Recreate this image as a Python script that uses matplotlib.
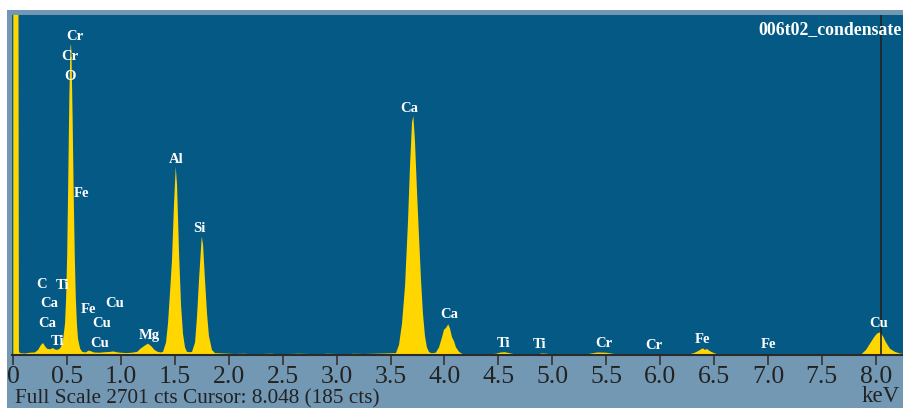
import matplotlib
matplotlib.use("Agg")
import matplotlib.pyplot as plt
from matplotlib.patches import Rectangle

# EDS spectrum (keV, counts)
energy = [0.0, 0.045, 0.052, 0.062, 0.11, 0.155, 0.20, 0.23, 0.257, 0.276, 0.294, 0.313,
          0.34, 0.368, 0.396, 0.424, 0.44, 0.46, 0.48, 0.49, 0.50, 0.51, 0.52, 0.53,
          0.535, 0.54, 0.55, 0.56, 0.57, 0.58, 0.59, 0.60, 0.62, 0.64, 0.67, 0.70,
          0.72, 0.75, 0.80, 0.85, 0.90, 0.93, 0.97, 1.00, 1.05, 1.10, 1.15, 1.18,
          1.22, 1.25, 1.28, 1.31, 1.34, 1.37,
          1.389, 1.417, 1.435, 1.454, 1.472, 1.491, 1.507, 1.519, 1.538, 1.556, 1.574,
          1.593, 1.611, 1.64,
          1.658, 1.686, 1.704, 1.723, 1.748, 1.76, 1.778, 1.797, 1.815, 1.843, 1.871,
          1.95, 2.05, 2.15, 2.25, 2.30, 2.40, 2.50, 2.55, 2.65, 2.75, 2.85, 2.90,
          3.00, 3.10, 3.15, 3.25, 3.35, 3.45,
          3.55, 3.578, 3.606, 3.634, 3.661, 3.68, 3.699, 3.711, 3.726, 3.745, 3.763,
          3.782, 3.80, 3.819, 3.837, 3.856, 3.875, 3.90,
          3.921, 3.949, 3.977, 3.995, 4.014, 4.035, 4.051, 4.07, 4.088, 4.107, 4.135,
          4.163, 4.20, 4.25, 4.35, 4.40, 4.45,
          4.48, 4.52, 4.56, 4.60, 4.64, 4.70, 4.75, 4.85, 4.90, 4.95, 5.00, 5.10,
          5.20, 5.30, 5.35, 5.42, 5.50, 5.56, 5.62, 5.70, 5.75, 5.80, 5.90, 5.95,
          6.00, 6.10, 6.20,
          6.268, 6.314, 6.351, 6.379, 6.398, 6.416, 6.435, 6.463, 6.50, 6.537, 6.60,
          6.80, 6.82, 6.84, 6.98, 7.00, 7.10, 7.13, 7.50, 7.85,
          7.873, 7.91, 7.947, 7.984, 8.012, 8.04, 8.067, 8.095, 8.132, 8.178, 8.225, 8.26]
counts = [5000, 5000, 30, 15, 12, 18, 20, 40, 80, 95, 70, 50,
          45, 55, 40, 45, 60, 110, 250, 450, 800, 1400, 2050, 2450,
          2470, 2380, 1900, 1300, 800, 450, 250, 130, 50, 25, 20, 35,
          30, 20, 18, 22, 25, 28, 20, 18, 15, 18, 25, 50,
          75, 90, 70, 40, 25, 20,
          25, 100, 250, 500, 750, 1200, 1496, 1350, 800, 400, 170,
          60, 25, 22,
          25, 100, 300, 600, 940, 880, 600, 330, 150, 40, 15,
          12, 8, 10, 0, 8, 10, 0, 8, 10, 8, 0, 10,
          8, 0, 10, 8, 10, 12,
          15, 80, 250, 550, 1050, 1500, 1850, 1899, 1700, 1300, 950,
          600, 330, 150, 60, 25, 15, 15,
          20, 60, 140, 200, 215, 244, 210, 140, 110, 60, 25,
          10, 0, 8, 8, 0, 8,
          10, 20, 22, 15, 8, 0, 8, 0, 12, 10, 0, 0,
          5, 0, 10, 20, 18, 10, 5, 0, 5, 0, 0, 8,
          0, 5, 0,
          5, 15, 30, 45, 53, 40, 48, 30, 15, 5, 0,
          0, 5, 0, 0, 8, 8, 0, 0, 0,
          10, 40, 90, 140, 170, 180, 150, 100, 50, 25, 12, 8]

# peak labels: element, energy (keV), baseline height (cts)
label_names = ["Cr", "Cr", "O", "Fe", "Al", "Si", "Ca", "Ca", "C", "Ti", "Ca", "Ca",
               "Ti", "Fe", "Cu", "Cu", "Cu", "Mg", "Ti", "Ti", "Cr", "Cr", "Fe", "Fe", "Cu"]
label_kev = [0.572, 0.526, 0.526, 0.633, 1.509, 1.727, 3.675, 4.046, 0.266, 0.456, 0.331,
             0.317, 0.41, 0.702, 0.939, 0.823, 0.804, 1.259, 4.552, 4.886, 5.475, 5.943,
             6.393, 7.006, 8.031]
label_cts = [2502, 2343, 2185, 1255, 1525, 977, 1930, 294, 532, 524, 381, 222,
             79, 334, 381, 222, 64, 127, 64, 56, 64, 48, 95, 56, 222]

ticks = [0, 0.5, 1.0, 1.5, 2.0, 2.5, 3.0, 3.5, 4.0, 4.5, 5.0, 5.5, 6.0, 6.5, 7.0, 7.5, 8.0]
full_scale = 2701
cursor_kev = 8.048
cursor_cts = 185
title = "006t02_condensate"

W, H = 904, 408
fig = plt.figure(figsize=(W / 100, H / 100), dpi=100, facecolor="white")
serif = ["Liberation Serif", "DejaVu Serif"]

# light frame panel behind the plot
fig.patches.append(Rectangle((7 / W, 0), 1, 1 - 10 / H, transform=fig.transFigure,
                             facecolor="#7398b4", edgecolor="none", zorder=-5))

ax = fig.add_axes([12 / W, 53 / H, (W - 12) / W, 340 / H])
ax.set_facecolor("#045a85")
ax.fill_between(energy, counts, 0, color="#ffd600", lw=0, zorder=2)
ax.set_xlim(-0.012, (W - 13.3) / 107.8)
ax.set_ylim(0, full_scale)

for s in ["top", "left", "right"]:
    ax.spines[s].set_visible(False)
ax.spines["bottom"].set_color("#2a2a2a")
ax.spines["bottom"].set_linewidth(1.5)
ax.spines["bottom"].set_zorder(3)
ax.set_yticks([])
ax.set_xticks(ticks)
ax.set_xticklabels(["0" if t == 0 else f"{t:.1f}" for t in ticks], family=serif,
                   fontsize=18.5, color="#222222")
ax.tick_params(axis="x", direction="out", length=7, width=1.3, color="#3a3a3a", pad=1)

ax.axvline(cursor_kev, color="#222222", lw=1.2, zorder=4)

for name, x, y in zip(label_names, label_kev, label_cts):
    ax.text(x, y, name, color="white", fontsize=10.5, fontweight="bold", family=serif,
            ha="center", va="baseline", zorder=5)

fig.text(758 / W, 1 - 34 / H, title, color="white", fontsize=12.8, fontweight="bold",
         family=serif, ha="left", va="baseline")
fig.text(15 / W, 1 - 403 / H,
         f"Full Scale {full_scale} cts Cursor: {cursor_kev:.3f} ({cursor_cts} cts)",
         color="#222222", fontsize=15.3, family=serif, ha="left", va="baseline")
fig.text(900 / W, 1 - 402 / H, "keV", color="#222222", fontsize=16.5, family=serif,
         ha="right", va="baseline")

fig.savefig("out.png", dpi=100, facecolor=fig.get_facecolor())
